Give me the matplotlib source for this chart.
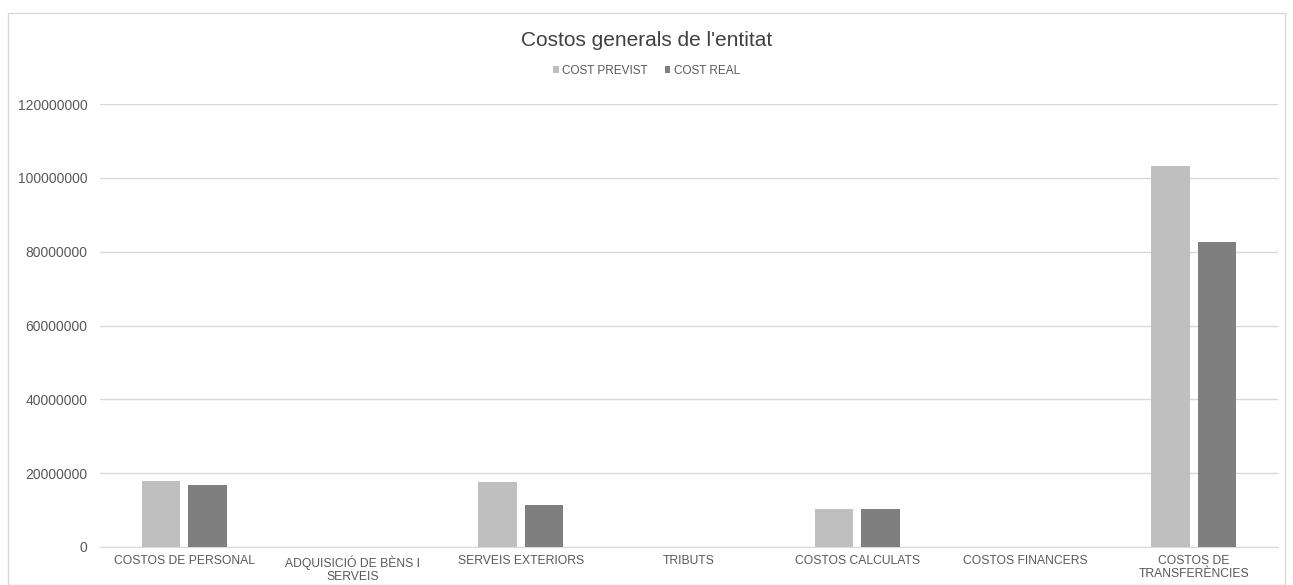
import matplotlib.pyplot as plt
import numpy as np
from matplotlib.patches import Rectangle

plt.rcParams['font.family'] = ['Liberation Sans', 'DejaVu Sans']

categories = ['COSTOS DE PERSONAL', 'ADQUISICIÓ DE BÈNS I\nSERVEIS', 'SERVEIS EXTERIORS',
              'TRIBUTS', 'COSTOS CALCULATS', 'COSTOS FINANCERS', 'COSTOS DE\nTRANSFERÈNCIES']
cost_previst = [17900000, 0, 17600000, 0, 10300000, 0, 103200000]
cost_real = [16800000, 0, 11400000, 0, 10300000, 0, 82600000]
yticks = [0, 20000000, 40000000, 60000000, 80000000, 100000000, 120000000]

text_col = '#595959'

fig = plt.figure(figsize=(12.93, 5.85), dpi=100)
fig.patches.append(Rectangle((8 / 1293, 0), 1277 / 1293, 1 - 13 / 585, transform=fig.transFigure,
                             fill=False, edgecolor='#D9D9D9', linewidth=1))
ax = fig.add_axes([100 / 1293, 38 / 585, 1178 / 1293, 443 / 585])

x = np.arange(len(categories))
w = 0.23
ax.bar(x - 0.138, cost_previst, w, color='#BFBFBF', label='COST PREVIST', zorder=3)
ax.bar(x + 0.138, cost_real, w, color='#7F7F7F', label='COST REAL', zorder=3)

ax.set_xlim(-0.5, len(categories) - 0.5)
ax.set_ylim(0, 120000000)
ax.set_yticks(yticks)
ax.set_yticklabels([str(v) for v in yticks])
ax.set_xticks(x)
ax.set_xticklabels(categories, fontsize=8.7, color=text_col, linespacing=1.1)
ax.tick_params(axis='y', labelsize=10, labelcolor=text_col, length=0, pad=9)
ax.tick_params(axis='x', length=0, pad=6)
ax.yaxis.grid(True, color='#D9D9D9', linewidth=1, zorder=0)
for s in ['top', 'right', 'left']:
    ax.spines[s].set_visible(False)
ax.spines['bottom'].set_color('#D9D9D9')

fig.text(0.5, 1 - 40 / 585, "Costos generals de l'entitat", ha='center', va='center',
         fontsize=15, color='#404040')
fig.legend(loc='center', bbox_to_anchor=(0.5, 1 - 71 / 585), ncol=2, frameon=False,
           fontsize=8.5, handlelength=0.5, handleheight=0.5, handletextpad=0.3,
           columnspacing=1.4, labelcolor=text_col)

fig.savefig('out.png', dpi=100)
